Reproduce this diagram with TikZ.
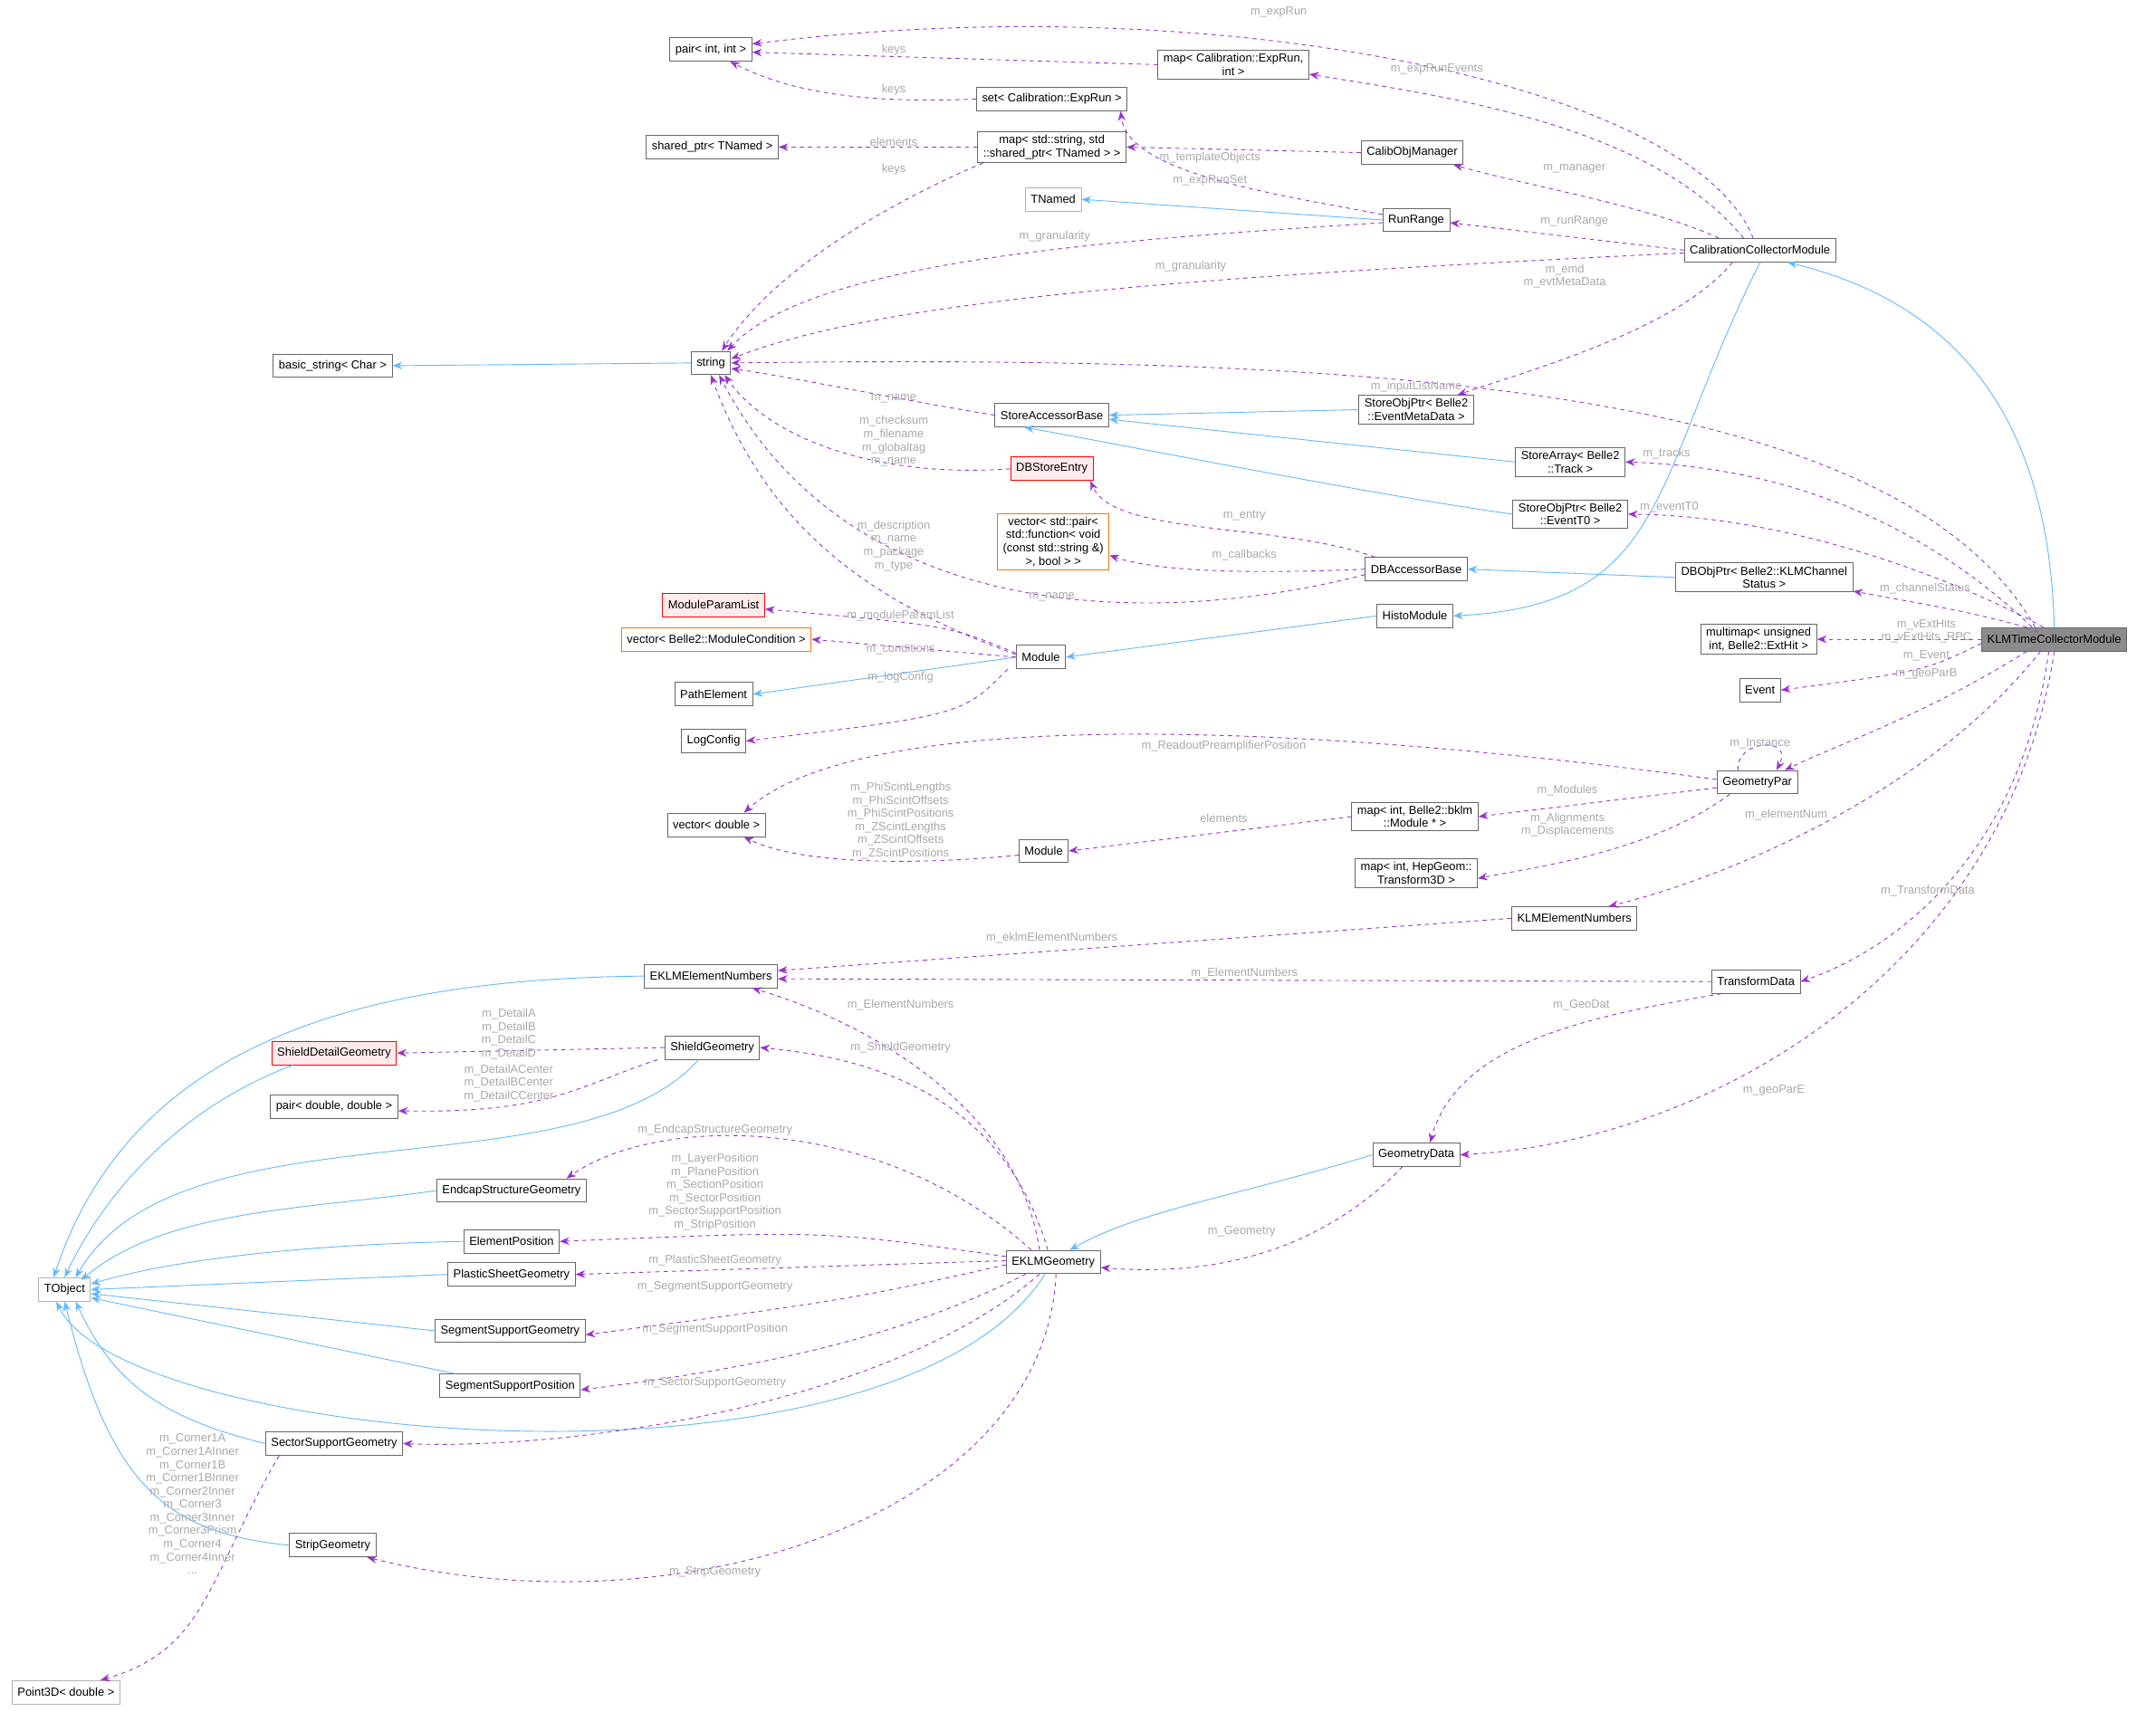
\documentclass[tikz,border=0pt]{standalone}
\usepackage{fontspec}
\setmainfont{Liberation Sans}
\usetikzlibrary{arrows.meta}
\definecolor{dep}{HTML}{9A32CD}
\definecolor{inh}{HTML}{63B8FF}
\definecolor{lblc}{HTML}{A8A8A8}
\begin{document}
\begin{tikzpicture}[x=1pt,y=1pt,
 every node/.style={font=\fontsize{8.5}{9.6}\selectfont},
 box/.style={draw=black!60,fill=white,line width=0.6pt,minimum height=17pt,inner xsep=4pt,inner ysep=2.5pt,align=center},
 gbox/.style={box,draw=black!30},
 rbox/.style={box,draw=red,fill=red!8},
 obox/.style={box,draw=orange!90!red},
 cur/.style={box,fill=black!45},
 lbl/.style={text=lblc,align=center,inner sep=0pt},
 dep/.style={draw=dep,dashed,line width=0.6pt,-{Stealth[length=7pt,width=5.5pt]}},
 inh/.style={draw=inh,line width=0.6pt,-{Stealth[length=7pt,width=5.5pt]}}]
\useasboundingbox (0,0) rectangle (1568,-1245);
% nodes
\node[box] (pii) at (517,-36) {pair< int, int >};
\node[box] (mapE) at (897,-47) {map< Calibration::ExpRun,\\ int >};
\node[box] (set) at (765,-72) {set< Calibration::ExpRun >};
\node[box] (shp) at (518,-107) {shared\_ptr< TNamed >};
\node[box] (mapS) at (765,-107) {map< std::string, std\\ ::shared\_ptr< TNamed > >};
\node[box] (com) at (1027,-111) {CalibObjManager};
\node[gbox] (tn) at (766,-145) {TNamed};
\node[box] (rr) at (1030,-160) {RunRange};
\node[box] (ccm) at (1280,-182) {CalibrationCollectorModule};
\node[box] (bs) at (242,-266) {basic\_string< Char >};
\node[box] (str) at (517,-264) {string};
\node[box] (sab) at (765,-302) {StoreAccessorBase};
\node[box] (emd) at (1030,-298) {StoreObjPtr< Belle2\\ ::EventMetaData >};
\node[box] (sa) at (1142,-336) {StoreArray< Belle2\\ ::Track >};
\node[rbox] (dbse) at (765,-341) {DBStoreEntry};
\node[box] (t0) at (1142,-374) {StoreObjPtr< Belle2\\ ::EventT0 >};
\node[obox] (vp) at (766,-394) {vector< std::pair<\\ std::function< void\\ (const std::string \&)\\ >, bool > >};
\node[box] (dbab) at (1030,-414) {DBAccessorBase};
\node[box] (dbo) at (1283,-420) {DBObjPtr< Belle2::KLMChannel\\ Status >};
\node[box] (hm) at (1029,-448) {HistoModule};
\node[box] (mm) at (1279,-465) {multimap< unsigned\\ int, Belle2::ExtHit >};
\node[cur] (klm) at (1494,-465) {KLMTimeCollectorModule};
\node[rbox] (mpl) at (519,-440) {ModuleParamList};
\node[obox] (vc) at (521,-465) {vector< Belle2::ModuleCondition >};
\node[box] (mod) at (757,-478) {Module};
\node[box] (pe) at (519,-505) {PathElement};
\node[box] (lc) at (519,-539) {LogConfig};
\node[box] (ev) at (1280,-502) {Event};
\node[box] (gp) at (1278,-569) {GeometryPar};
\node[box] (vd) at (521,-600) {vector< double >};
\node[box] (mb) at (1029,-594) {map< int, Belle2::bklm\\ ::Module * >};
\node[box] (mod2) at (759,-619) {Module};
\node[box] (mh) at (1030,-635) {map< int, HepGeom::\\ Transform3D >};
\node[box] (ken) at (1145,-668) {KLMElementNumbers};
\node[box] (eken) at (517,-710) {EKLMElementNumbers};
\node[box] (td) at (1277,-714) {TransformData};
\node[rbox] (sdg) at (243,-766) {ShieldDetailGeometry};
\node[box] (sg) at (518,-762) {ShieldGeometry};
\node[box] (pd) at (243,-805) {pair< double, double >};
\node[box] (esg) at (372,-866) {EndcapStructureGeometry};
\node[box] (gd) at (1030,-840) {GeometryData};
\node[box] (ep) at (372,-903) {ElementPosition};
\node[box] (psg) at (372,-927) {PlasticSheetGeometry};
\node[box] (ekg) at (766,-918) {EKLMGeometry};
\node[gbox] (tob) at (47,-938) {TObject};
\node[box] (ssg) at (371,-968) {SegmentSupportGeometry};
\node[box] (ssp) at (371,-1008) {SegmentSupportPosition};
\node[box] (scg) at (243,-1050) {SectorSupportGeometry};
\node[box] (stg) at (242,-1124) {StripGeometry};
\node[gbox] (p3) at (48,-1231) {Point3D< double >};
% inheritance
\draw[inh] (str.west) -- (bs.east);
\draw[inh] (rr.west) -- (tn.east);
\draw[inh] (emd.west) -- (sab.east);
\draw[inh] (sa.west) -- ([yshift=-3pt]sab.east);
\draw[inh] (t0.west) .. controls (1000,-360) and (850,-330) .. ([xshift=-20pt]sab.south);
\draw[inh] (dbo.west) -- (dbab.east);
\draw[inh] (hm.west) -- (mod.east);
\draw[inh] (mod.west) -- (pe.east);
\draw[inh] (ccm.south) .. controls (1200,-350) and (1215,-440) .. (hm.east);
\draw[inh] (klm.north) .. controls (1490,-300) and (1420,-220) .. ([xshift=20pt]ccm.south);
\draw[inh] (gd.west) .. controls (900,-870) and (830,-880) .. ([xshift=12pt]ekg.north);
\draw[inh] (eken.west) .. controls (260,-712) and (95,-760) .. ([xshift=-8pt]tob.north);
\draw[inh] ([xshift=-30pt]sdg.south) .. controls (120,-810) and (70,-880) .. (tob.north);
\draw[inh] ([xshift=-10pt]sg.south) .. controls (420,-870) and (130,-800) .. ([xshift=8pt]tob.north);
\draw[inh] (esg.west) .. controls (220,-880) and (120,-880) .. ([xshift=12pt,yshift=-2pt]tob.north);
\draw[inh] (ep.west) .. controls (230,-905) and (130,-915) .. ([yshift=4pt]tob.east);
\draw[inh] (psg.west) -- (tob.east);
\draw[inh] (ssg.west) -- ([yshift=-3pt]tob.east);
\draw[inh] ([xshift=-40pt]ssp.north) -- ([yshift=-6pt]tob.east);
\draw[inh] (scg.west) .. controls (110,-1030) and (80,-1000) .. ([xshift=8pt]tob.south);
\draw[inh] (stg.west) .. controls (120,-1115) and (80,-1080) .. (tob.south);
\draw[inh] ([xshift=-6pt]ekg.south) .. controls (650,-1100) and (90,-1050) .. ([xshift=-6pt]tob.south);
% dependencies
\draw[dep] ([xshift=-5pt]ccm.north) .. controls (1230,-60) and (880,10) .. ([yshift=4pt]pii.east);
\draw[dep] (mapE.west) -- ([yshift=-2pt]pii.east);
\draw[dep] (set.west) .. controls (640,-75) and (580,-70) .. ([xshift=14pt]pii.south);
\draw[dep] ([xshift=-12pt]ccm.north) .. controls (1200,-90) and (1050,-70) .. ([yshift=-7pt]mapE.east);
\draw[dep] (mapS.west) -- (shp.east);
\draw[dep] ([xshift=-50pt]mapS.south) .. controls (640,-150) and (560,-200) .. ([xshift=8pt]str.north);
\draw[dep] (com.west) -- (mapS.east);
\draw[dep] ([yshift=4pt]rr.west) .. controls (920,-140) and (820,-125) .. ([xshift=50pt]set.south);
\draw[dep] ([xshift=-30pt]ccm.north) .. controls (1200,-150) and (1110,-135) .. ([xshift=30pt]com.south);
\draw[dep] (ccm.west) -- ([yshift=-2pt]rr.east);
\draw[dep] ([yshift=-2pt]rr.west) .. controls (800,-175) and (590,-190) .. ([xshift=12pt]str.north);
\draw[dep] ([yshift=-2pt]ccm.west) .. controls (900,-200) and (650,-215) .. ([yshift=3pt]str.east);
\draw[dep] ([xshift=-20pt]ccm.south) .. controls (1220,-240) and (1110,-270) .. ([xshift=30pt]emd.north);
\draw[dep] ([xshift=-14pt]klm.north) .. controls (1380,-280) and (1000,-258) .. (str.east);
\draw[dep] (sab.west) .. controls (650,-290) and (580,-275) .. ([yshift=-4pt]str.east);
\draw[dep] (dbse.west) .. controls (640,-348) and (560,-320) .. ([xshift=10pt]str.south);
\draw[dep] ([yshift=2pt]mod.west) .. controls (640,-440) and (560,-390) .. (str.south);
\draw[dep] ([yshift=-4pt]dbab.west) .. controls (850,-455) and (620,-460) .. ([xshift=6pt]str.south);
\draw[dep] ([xshift=-12pt,yshift=-4pt]klm.north) .. controls (1400,-380) and (1300,-340) .. (sa.east);
\draw[dep] ([xshift=-8pt]klm.north) .. controls (1420,-420) and (1300,-375) .. (t0.east);
\draw[dep] ([xshift=-30pt]dbab.north) .. controls (930,-380) and (810,-390) .. ([xshift=28pt]dbse.south);
\draw[dep] (dbab.west) .. controls (900,-418) and (840,-415) .. ([yshift=-10pt]vp.east);
\draw[dep] ([xshift=-20pt]klm.north) .. controls (1430,-445) .. ([yshift=-10pt]dbo.east);
\draw[dep] (klm.west) -- (mm.east);
\draw[dep] ([yshift=-3pt]klm.west) .. controls (1400,-488) .. (ev.east);
\draw[dep] ([xshift=-20pt]klm.south) .. controls (1400,-520) and (1340,-540) .. ([xshift=20pt]gp.north);
\draw[dep] ([yshift=3pt]mod.west) .. controls (690,-455) .. ([yshift=-3pt]mpl.east);
\draw[dep] (mod.west) -- (vc.east);
\draw[dep] ([xshift=-6pt]mod.south west) .. controls (700,-520) .. (lc.east);
\draw[dep] ([yshift=2pt]gp.west) .. controls (900,-520) and (620,-520) .. ([xshift=20pt]vd.north);
\draw[dep] ([xshift=-14pt]gp.north) .. controls (1262,-538) and (1305,-535) .. ([xshift=14pt]gp.north);
\draw[dep] ([yshift=-4pt]gp.west) -- (mb.east);
\draw[dep] ([xshift=-20pt]gp.south) .. controls (1200,-620) and (1120,-630) .. ([yshift=-4pt]mh.east);
\draw[dep] (mb.west) -- (mod2.east);
\draw[dep] ([yshift=-3pt]mod2.west) .. controls (660,-630) and (580,-628) .. ([xshift=20pt]vd.south);
\draw[dep] ([xshift=-10pt]klm.south) .. controls (1400,-580) and (1250,-640) .. ([xshift=25pt]ken.north);
\draw[dep] (ken.west) -- ([yshift=4pt]eken.east);
\draw[dep] (td.west) -- ([yshift=-2pt]eken.east);
\draw[dep] ([xshift=-4pt]klm.south) .. controls (1470,-620) and (1380,-690) .. (td.east);
\draw[dep] ([xshift=-10pt]ekg.north) .. controls (740,-800) and (620,-740) .. ([xshift=30pt]eken.south);
\draw[dep] ([xshift=-25pt]td.south) .. controls (1150,-740) and (1060,-760) .. ([xshift=10pt]gd.north);
\draw[dep] (klm.south) .. controls (1460,-700) and (1250,-830) .. (gd.east);
\draw[dep] (sg.west) -- (sdg.east);
\draw[dep] ([xshift=-5pt]sg.south west) .. controls (420,-790) and (400,-810) .. ([yshift=-3pt]pd.east);
\draw[dep] ([xshift=-4pt]ekg.north) .. controls (730,-800) and (640,-770) .. (sg.east);
\draw[dep] ([xshift=-16pt]ekg.north) .. controls (640,-810) and (480,-810) .. ([xshift=40pt]esg.north);
\draw[dep] ([yshift=4pt]ekg.west) .. controls (600,-895) .. (ep.east);
\draw[dep] ([yshift=1pt]ekg.west) -- (psg.east);
\draw[dep] ([yshift=-2pt]ekg.west) .. controls (620,-945) .. ([yshift=-3pt]ssg.east);
\draw[dep] ([xshift=-20pt]ekg.south) .. controls (650,-975) and (550,-995) .. ([yshift=-3pt]ssp.east);
\draw[dep] ([xshift=-10pt]ekg.south) .. controls (650,-1020) and (420,-1055) .. (scg.east);
\draw[dep] ([xshift=2pt]ekg.south) .. controls (760,-1100) and (500,-1190) .. ([xshift=25pt]stg.south);
\draw[dep] ([xshift=-10pt]gd.south) .. controls (970,-900) and (900,-930) .. ([yshift=-4pt]ekg.east);
\draw[dep] ([xshift=-40pt]scg.south) .. controls (150,-1150) and (150,-1200) .. ([xshift=25pt]p3.north);
% labels
\node[lbl] (l1) at (930,-9) {m\_expRun};
\node[lbl] (l2) at (650,-36) {keys};
\node[lbl] (l3) at (650,-65) {keys};
\node[lbl] (l4) at (1045,-50) {m\_expRunEvents};
\node[lbl] (l5) at (650,-103) {elements};
\node[lbl] (l6) at (650,-123) {keys};
\node[lbl] (l7) at (880,-115) {m\_templateObjects};
\node[lbl] (l8) at (880,-131) {m\_expRunSet};
\node[lbl] (l9) at (1145,-123) {m\_manager};
\node[lbl] (l10) at (1145,-161) {m\_runRange};
\node[lbl] (l11) at (767,-172) {m\_granularity};
\node[lbl] (l12) at (866,-194) {m\_granularity};
\node[lbl] (l13) at (1138,-201) {m\_emd\\m\_evtMetaData};
\node[lbl] (l14) at (1030,-281) {m\_inputListName};
\node[lbl] (l15) at (650,-290) {m\_name};
\node[lbl] (l16) at (650,-321) {m\_checksum\\m\_filename\\m\_globaltag\\m\_name};
\node[lbl] (l17) at (650,-397) {m\_description\\m\_name\\m\_package\\m\_type};
\node[lbl] (l18) at (1212,-330) {m\_tracks};
\node[lbl] (l19) at (1214,-369) {m\_eventT0};
\node[lbl] (l20) at (905,-375) {m\_entry};
\node[lbl] (l21) at (905,-404) {m\_callbacks};
\node[lbl] (l22) at (765,-434) {m\_name};
\node[lbl] (l23) at (1400,-428) {m\_channelStatus};
\node[lbl] (l24) at (1401,-459) {m\_vExtHits\\m\_vExtHits\_RPC};
\node[lbl] (l25) at (1401,-477) {m\_Event};
\node[lbl] (l26) at (1401,-490) {m\_geoParB};
\node[lbl] (l27) at (655,-448) {m\_moduleParamList};
\node[lbl] (l28) at (655,-472) {m\_conditions};
\node[lbl] (l29) at (655,-493) {m\_logConfig};
\node[lbl] (l30) at (890,-543) {m\_ReadoutPreamplifierPosition};
\node[lbl] (l31) at (1280,-541) {m\_Instance};
\node[lbl] (l32) at (1140,-575) {m\_Modules};
\node[lbl] (l33) at (1140,-600) {m\_Alignments\\m\_Displacements};
\node[lbl] (l34) at (890,-595) {elements};
\node[lbl] (l35) at (655,-597) {m\_PhiScintLengths\\m\_PhiScintOffsets\\m\_PhiScintPositions\\m\_ZScintLengths\\m\_ZScintOffsets\\m\_ZScintPositions};
\node[lbl] (l36) at (1299,-593) {m\_elementNum};
\node[lbl] (l37) at (765,-682) {m\_eklmElementNumbers};
\node[lbl] (l38) at (905,-708) {m\_ElementNumbers};
\node[lbl] (l39) at (1402,-648) {m\_TransformData};
\node[lbl] (l40) at (655,-731) {m\_ElementNumbers};
\node[lbl] (l41) at (1150,-731) {m\_GeoDat};
\node[lbl] (l42) at (1290,-793) {m\_geoParE};
\node[lbl] (l43) at (370,-752) {m\_DetailA\\m\_DetailB\\m\_DetailC\\m\_DetailD};
\node[lbl] (l44) at (370,-788) {m\_DetailACenter\\m\_DetailBCenter\\m\_DetailCCenter};
\node[lbl] (l45) at (655,-762) {m\_ShieldGeometry};
\node[lbl] (l46) at (520,-822) {m\_EndcapStructureGeometry};
\node[lbl] (l47) at (520,-867) {m\_LayerPosition\\m\_PlanePosition\\m\_SectionPosition\\m\_SectorPosition\\m\_SectorSupportPosition\\m\_StripPosition};
\node[lbl] (l48) at (520,-917) {m\_PlasticSheetGeometry};
\node[lbl] (l49) at (520,-936) {m\_SegmentSupportGeometry};
\node[lbl] (l50) at (520,-967) {m\_SegmentSupportPosition};
\node[lbl] (l51) at (520,-1006) {m\_SectorSupportGeometry};
\node[lbl] (l52) at (520,-1143) {m\_StripGeometry};
\node[lbl] (l53) at (903,-896) {m\_Geometry};
\node[lbl] (l54) at (140,-1094) {m\_Corner1A\\m\_Corner1AInner\\m\_Corner1B\\m\_Corner1BInner\\m\_Corner2Inner\\m\_Corner3\\m\_Corner3Inner\\m\_Corner3Prism\\m\_Corner4\\m\_Corner4Inner\\...};
\end{tikzpicture}
\end{document}
